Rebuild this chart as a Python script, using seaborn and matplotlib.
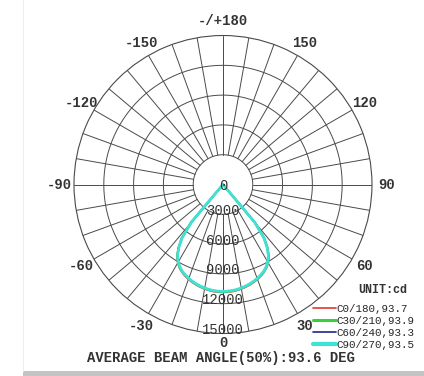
"""
Polar luminous intensity curve (C-planes) with average beam angle.
"""

import numpy as np
import pandas as pd
import matplotlib
matplotlib.use("Agg")
import matplotlib.pyplot as plt
import seaborn as sns
from matplotlib.lines import Line2D
from matplotlib.patches import Rectangle

# gamma angles (deg), one side of each C-plane (mirrored for the other side)
GAMMA = [0, 2.5, 5, 7.5, 10, 12.5, 15, 17.5, 20, 22.5, 25, 27.5, 30, 32.5, 35, 37.5,
         40, 42.5, 45, 50, 60, 70, 80, 90]

C0_180  = [10850, 10840, 10810, 10750, 10670, 10570, 10450, 10310, 10150, 9970, 9750,
           9470, 9100, 8600, 7850, 6850, 5050, 0, 0, 0, 0, 0, 0, 0]
C30_210 = [10800, 10790, 10760, 10700, 10620, 10520, 10400, 10260, 10100, 9920, 9700,
           9420, 9050, 8550, 7800, 6800, 5000, 0, 0, 0, 0, 0, 0, 0]
C60_240 = [10760, 10750, 10720, 10660, 10580, 10480, 10360, 10220, 10060, 9880, 9660,
           9380, 9010, 8510, 7760, 6760, 4950, 0, 0, 0, 0, 0, 0, 0]
C90_270 = [10760, 10750, 10720, 10660, 10580, 10480, 10360, 10220, 10060, 9880, 9660,
           9380, 9010, 8510, 7760, 6760, 4950, 0, 0, 0, 0, 0, 0, 0]

SERIES = ["C0/180,93.7", "C30/210,93.9", "C60/240,93.3", "C90/270,93.5"]
COLORS = ["#e03a2e", "#3ccf3c", "#23238f", "#3fe3d6"]
WIDTHS = [1.4, 1.6, 1.2, 2.0]

RING_VALUES = [0, 3000, 6000, 9000, 12000, 15000]
ANGLE_TICKS = [0, 30, 60, 90, 120, 150, 180, 210, 240, 270, 300, 330]
ANGLE_LABELS = ["0", "30", "60", "90", "120", "150", "-/+180",
                "-150", "-120", "-90", "-60", "-30"]

MONO = ["Liberation Mono", "DejaVu Sans Mono"]
GRID_C = "#4a4a4a"


def build_frame():
    rows = []
    for name, vals in zip(SERIES, [C0_180, C30_210, C60_240, C90_270]):
        # left side (negative gamma) then right side
        angles = [-g for g in GAMMA[::-1]] + GAMMA[1:]
        values = vals[::-1] + vals[1:]
        for a, v in zip(angles, values):
            rows.append({"series": name, "theta": np.deg2rad(a), "cd": v})
    return pd.DataFrame(rows)


def main():
    sns.set_style("white")
    plt.rcParams["font.family"] = MONO

    fig = plt.figure(figsize=(4.24, 3.76), dpi=100)
    ax = fig.add_axes([0.1745, 0.113, 0.7028, 0.7926], projection="polar")
    ax.set_theta_zero_location("S")
    ax.set_theta_direction(1)
    ax.set_ylim(0, 15000)
    ax.grid(False)
    ax.set_xticks([])
    ax.set_yticks([])
    ax.spines["polar"].set_color(GRID_C)
    ax.spines["polar"].set_linewidth(0.8)

    # grid: rings and 10-degree spokes starting at the first ring
    full = np.linspace(0, 2 * np.pi, 361)
    for rv in RING_VALUES[1:-1]:
        ax.plot(full, np.full_like(full, rv), color=GRID_C, lw=0.7, zorder=1)
    for deg in range(0, 360, 10):
        t = np.deg2rad(deg)
        ax.plot([t, t], [RING_VALUES[1], RING_VALUES[-1]], color=GRID_C, lw=0.7, zorder=1)

    df = build_frame()
    for name, color, lw in zip(SERIES, COLORS, WIDTHS):
        sub = df[df["series"] == name]
        sns.lineplot(data=sub, x="theta", y="cd", color=color, lw=lw,
                     sort=False, estimator=None, ax=ax, zorder=3)
    ax.set_xlabel("")
    ax.set_ylabel("")

    # ring labels along the 0 direction
    for rv in RING_VALUES:
        ax.text(0, max(rv - 350, 200), str(rv), ha="center", va="center",
                fontsize=10, color="#333333", family=MONO, zorder=4)

    # angle labels outside the outer ring
    for deg, lab in zip(ANGLE_TICKS, ANGLE_LABELS):
        r = 16000 if deg == 0 else 16500
        ax.text(np.deg2rad(deg), r, lab, ha="center", va="center",
                fontsize=10, fontweight="bold", color="#333333", family=MONO,
                clip_on=False)

    fig.text(0.522, 0.047, "AVERAGE BEAM ANGLE(50%):93.6 DEG", ha="center", va="center",
             fontsize=10, fontweight="bold", color="#333333", family=MONO)

    fig.text(0.903, 0.229, "UNIT:cd", ha="center", va="center",
             fontsize=8.5, fontweight="bold", color="#333333", family=MONO)
    handles = [Line2D([0], [0], color=c, lw=w) for c, w in zip(COLORS, [1.2, 2.2, 1.2, 3.0])]
    fig.legend(handles, SERIES, loc="upper left",
               bbox_to_anchor=(0.725, 0.207), frameon=False,
               prop={"family": MONO, "size": 7.8},
               handlelength=2.1, handletextpad=0.1, labelspacing=0.2,
               borderpad=0.0)

    # soft grey edge at the bottom and left, like the scanned sheet
    fig.patches.append(Rectangle((0.055, 0.0), 0.945, 0.014, transform=fig.transFigure,
                                 color="#c4c4c4", lw=0))
    fig.lines.append(Line2D([0.055, 0.055], [0.014, 1.0], transform=fig.transFigure,
                            color="#eeeeee", lw=0.8))

    plt.savefig("out.png", dpi=100)
    plt.close()


if __name__ == "__main__":
    main()
